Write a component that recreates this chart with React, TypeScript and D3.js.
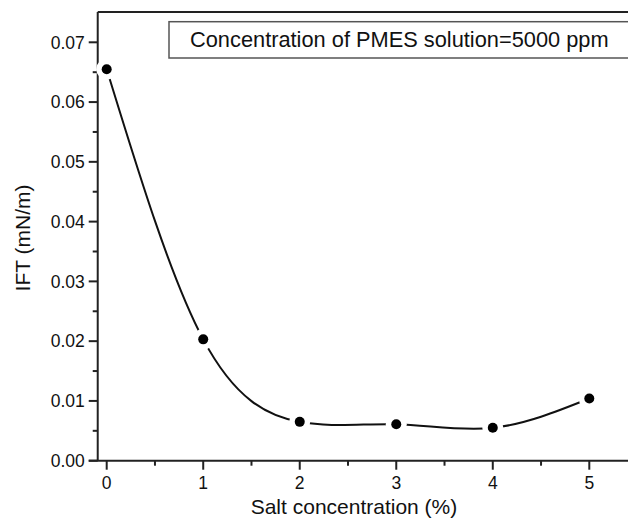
import React from "react";
import * as d3 from "d3";

const saltConc = [0, 1, 2, 3, 4, 5];
const ift = [0.0655, 0.0203, 0.0065, 0.0061, 0.0055, 0.0104];
const xTicks = [0, 1, 2, 3, 4, 5];
const xMinor = [0.5, 1.5, 2.5, 3.5, 4.5];
const yTicks = [0, 0.01, 0.02, 0.03, 0.04, 0.05, 0.06, 0.07];
const yMinor = [0.005, 0.015, 0.025, 0.035, 0.045, 0.055, 0.065];
const legendText = "Concentration of PMES solution=5000 ppm";
const xLabel = "Salt concentration (%)";
const yLabel = "IFT (mN/m)";

export default function App() {
  const W = 628, H = 522;
  const x = d3.scaleLinear().domain([0, 5]).range([106.7, 589.3]);
  const y = d3.scaleLinear().domain([0, 0.07]).range([460.7, 42.3]);
  const left = x(-0.093);
  const top = 12;
  const bottom = y(0);
  const right = 660;
  const font = "Liberation Sans, Arial, sans-serif";
  const line = d3
    .line<number>()
    .x((_, i) => x(saltConc[i]))
    .y((d) => y(d))
    .curve(d3.curveNatural);
  return (
    <svg
      width={W}
      height={H}
      style={{ position: "absolute", left: 0, top: 0, background: "#fff" }}
      fontFamily={font}
    >
      <rect x={0} y={0} width={W} height={H} fill="#fff" />
      {/* frame */}
      <line x1={left} y1={top} x2={right} y2={top} stroke="#222" strokeWidth={2} />
      <line x1={left} y1={top} x2={left} y2={bottom} stroke="#222" strokeWidth={2} />
      <line x1={left - 9} y1={bottom} x2={right} y2={bottom} stroke="#222" strokeWidth={2} />
      {/* y ticks */}
      {yTicks.map((t) => (
        <g key={"y" + t}>
          <line x1={left - 9} x2={left} y1={y(t)} y2={y(t)} stroke="#222" strokeWidth={2} />
          <text x={left - 13} y={y(t)} dy="0.36em" textAnchor="end" fontSize={17.5} fill="#111">
            {t.toFixed(2)}
          </text>
        </g>
      ))}
      {yMinor.map((t) => (
        <line key={"ym" + t} x1={left - 5} x2={left} y1={y(t)} y2={y(t)} stroke="#222" strokeWidth={2} />
      ))}
      {/* x ticks */}
      {xTicks.map((t) => (
        <g key={"x" + t}>
          <line x1={x(t)} x2={x(t)} y1={bottom} y2={bottom + 9} stroke="#222" strokeWidth={2} />
          <text x={x(t)} y={bottom + 28.5} textAnchor="middle" fontSize={17.5} fill="#111">
            {t}
          </text>
        </g>
      ))}
      {xMinor.map((t) => (
        <line key={"xm" + t} x1={x(t)} x2={x(t)} y1={bottom} y2={bottom + 5} stroke="#222" strokeWidth={2} />
      ))}
      {/* labels */}
      <text x={354} y={514} textAnchor="middle" fontSize={21} fill="#111">
        {xLabel}
      </text>
      <text
        transform={`translate(30,${238}) rotate(-90)`}
        textAnchor="middle"
        fontSize={21}
        fill="#111"
      >
        {yLabel}
      </text>
      {/* legend */}
      <rect x={169} y={21.7} width={500} height={36.3} fill="#fff" stroke="#555" strokeWidth={1.5} />
      <text x={190} y={47} fontSize={21.8} fill="#111">
        {legendText}
      </text>
      {/* curve */}
      <path d={line(ift) || ""} fill="none" stroke="#111" strokeWidth={2} />
      {ift.map((v, i) => (
        <circle key={"w" + i} cx={x(saltConc[i])} cy={y(v)} r={10.5} fill="#fff" />
      ))}
      {ift.map((v, i) => (
        <circle key={"p" + i} cx={x(saltConc[i])} cy={y(v)} r={5} fill="#000" />
      ))}
    </svg>
  );
}
